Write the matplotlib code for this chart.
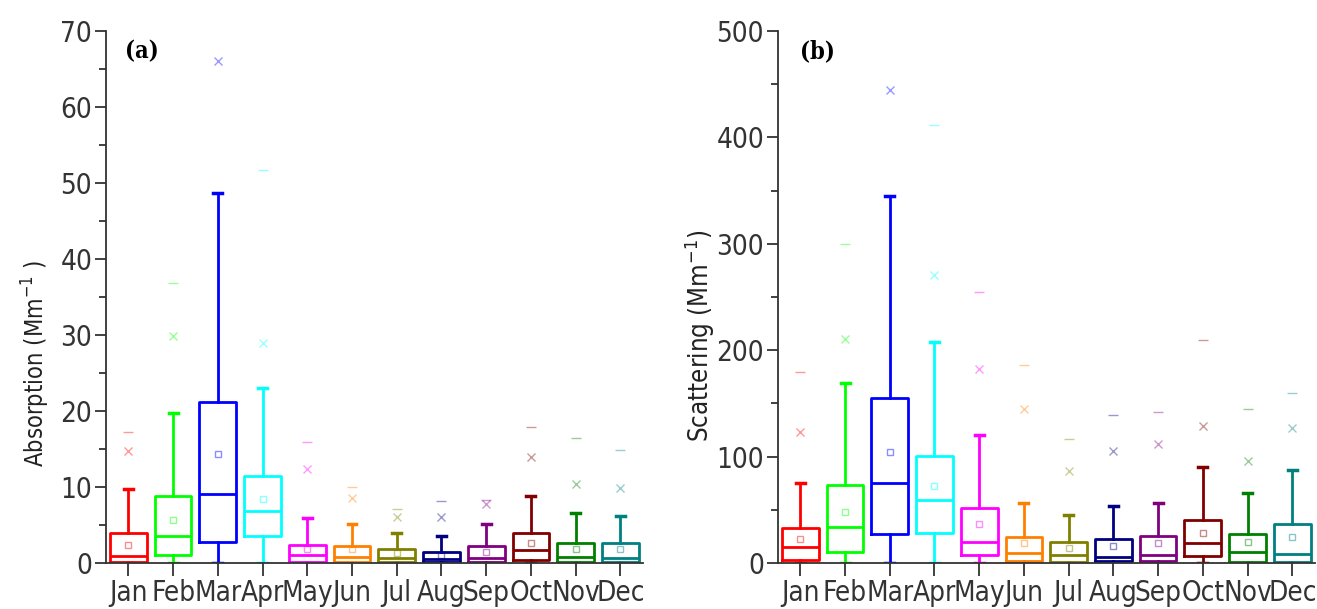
import numpy as np
import matplotlib.pyplot as plt
from matplotlib import font_manager
from matplotlib.ticker import MultipleLocator

# Pick a narrow sans if one is installed, else plain DejaVu Sans
entries = font_manager.fontManager.ttflist
names = {f.name for f in entries}
cond = [f for f in entries if f.name == "DejaVu Sans"
        and str(f.stretch) not in ("normal", "400")]
if "Liberation Sans Narrow" in names:
    plt.rcParams['font.family'] = ['Liberation Sans Narrow', 'DejaVu Sans']
    narrow = True
elif cond:
    plt.rcParams['font.family'] = ['DejaVu Sans']
    plt.rcParams['font.stretch'] = 'condensed'
    narrow = True
else:
    plt.rcParams['font.family'] = ['DejaVu Sans']
    narrow = False

xsize = 20 if narrow else 15
ysize = 20 if narrow else 18

# Months and box colours
months = ["Jan", "Feb", "Mar", "Apr", "May", "Jun",
          "Jul", "Aug", "Sep", "Oct", "Nov", "Dec"]
colors = ["#ff0000", "#00ff00", "#0000ff", "#00ffff", "#ff00ff", "#ff8000",
          "#808000", "#000080", "#800080", "#800000", "#008000", "#008080"]

# (a) Absorption (Mm-1)
abs_q1 = [0.1, 1.0, 2.8, 3.6, 0.1, 0.1, 0.1, 0.2, 0.1, 0.4, 0.1, 0.1]
abs_med = [0.9, 3.6, 9.1, 6.9, 1.0, 0.8, 0.7, 0.5, 0.7, 1.7, 0.8, 0.7]
abs_q3 = [3.9, 8.8, 21.2, 11.5, 2.4, 2.3, 1.9, 1.5, 2.3, 3.9, 2.7, 2.6]
abs_mean = [2.4, 5.7, 14.4, 8.4, 1.9, 1.8, 1.3, 1.1, 1.4, 2.6, 1.8, 1.8]
abs_lo = [0.0, 0.0, 0.0, 0.0, 0.0, 0.0, 0.0, 0.0, 0.0, 0.0, 0.0, 0.0]
abs_hi = [9.7, 19.8, 48.7, 23.0, 5.9, 5.1, 4.0, 3.6, 5.1, 8.8, 6.6, 6.2]
abs_p99 = [14.8, 29.9, 66.0, 29.0, 12.4, 8.5, 6.0, 6.0, 7.8, 14.0, 10.4, 9.9]
abs_max = [17.3, 36.9, np.nan, 51.7, 15.9, 10.0, 7.1, 8.2, 8.3, 17.9, 16.4, 14.9]

# (b) Scattering (Mm-1)
sca_q1 = [3, 10, 27, 28.5, 7.5, 2, 1.2, 1.9, 2, 7, 1.2, 1.2]
sca_med = [15.4, 34, 75.5, 59, 19.4, 9, 7.5, 6, 7.5, 18.5, 10, 8.5]
sca_q3 = [33, 73, 155, 101, 52, 24, 20, 23, 25, 40.5, 27.5, 37]
sca_mean = [22.5, 48, 104, 72.7, 37, 18.5, 13.8, 16, 19, 28.5, 20, 24]
sca_lo = [0, 0, 0, 0, 0, 0, 0, 0, 0, 0, 0, 0]
sca_hi = [75, 169, 345, 208, 120, 56, 45, 53.5, 56, 90.5, 65.5, 87.5]
sca_p99 = [123, 211, 445, 271, 182, 145, 86.5, 105.5, 111.5, 129, 96, 126.5]
sca_max = [180, 300, np.nan, 412, 255, 186, 117, 139, 141.5, 210, 145, 159.5]


def draw(ax, q1, med, q3, mean, lo, hi, p99, vmax):
    pos = np.arange(1, len(months) + 1)
    stats = []
    for i in range(len(months)):
        stats.append(dict(q1=q1[i], med=med[i], q3=q3[i], mean=mean[i],
                          whislo=lo[i], whishi=hi[i], fliers=[]))
    art = ax.bxp(stats, positions=pos, widths=0.82, capwidths=0.2,
                 showmeans=True, showfliers=False)
    for i, c in enumerate(colors):
        art['boxes'][i].set(color=c, linewidth=2)
        art['medians'][i].set(color=c, linewidth=2)
        for k in (2 * i, 2 * i + 1):
            art['whiskers'][k].set(color=c, linewidth=2)
            art['caps'][k].set(color=c, linewidth=2.5)
        art['means'][i].set(marker='s', markersize=5, markerfacecolor='none',
                            markeredgecolor=c, alpha=0.45)
        ax.plot(pos[i], p99[i], marker='x', color=c, alpha=0.4,
                markersize=6, linestyle='none')
        ax.plot(pos[i], vmax[i], marker='_', color=c, alpha=0.4,
                markersize=7, linestyle='none')

    ax.set_xlim(0.5, 12.5)
    ax.set_xticks(pos)
    ax.set_xticklabels(months)
    for s in ("top", "right"):
        ax.spines[s].set_visible(False)
    for s in ("left", "bottom"):
        ax.spines[s].set_color("#333333")
        ax.spines[s].set_linewidth(1.3)
    ax.tick_params(axis="both", which="major", direction="out", length=8,
                   width=1.3, color="#333333", labelcolor="#333333", pad=2)
    ax.tick_params(axis="x", labelsize=xsize, length=9, pad=2.5)
    ax.tick_params(axis="y", labelsize=ysize)
    ax.tick_params(axis="y", which="minor", direction="out", length=5,
                   width=1.3, color="#333333")
    ax.tick_params(axis="x", which="minor", bottom=False)


fig = plt.figure(figsize=(13.17, 6.09), dpi=100)

ax1 = fig.add_axes([0.0805, 0.0755, 0.4075, 0.8735])
draw(ax1, abs_q1, abs_med, abs_q3, abs_mean, abs_lo, abs_hi, abs_p99, abs_max)
ax1.set_ylim(0, 70)
ax1.yaxis.set_major_locator(MultipleLocator(10))
ax1.yaxis.set_minor_locator(MultipleLocator(5))
ax1.set_ylabel("Absorption (Mm$^{-1}$ )", fontsize=ysize - 3, color="#222222")
ax1.yaxis.set_label_coords(-0.100, 0.376)
ax1.text(0.035, 0.962, "(a)", transform=ax1.transAxes, fontsize=17,
         fontweight="bold", family="DejaVu Serif", va="center")

ax2 = fig.add_axes([0.5907, 0.0755, 0.4075, 0.8735])
draw(ax2, sca_q1, sca_med, sca_q3, sca_mean, sca_lo, sca_hi, sca_p99, sca_max)
ax2.set_ylim(0, 500)
ax2.yaxis.set_major_locator(MultipleLocator(100))
ax2.yaxis.set_minor_locator(MultipleLocator(50))
ax2.set_ylabel("Scattering (Mm$^{-1}$)", fontsize=ysize - 1.5, color="#222222")
ax2.yaxis.set_label_coords(-0.113, 0.427)
ax2.text(0.041, 0.962, "(b)", transform=ax2.transAxes, fontsize=17,
         fontweight="bold", family="DejaVu Serif", va="center")

fig.savefig("out.png", dpi=100)
